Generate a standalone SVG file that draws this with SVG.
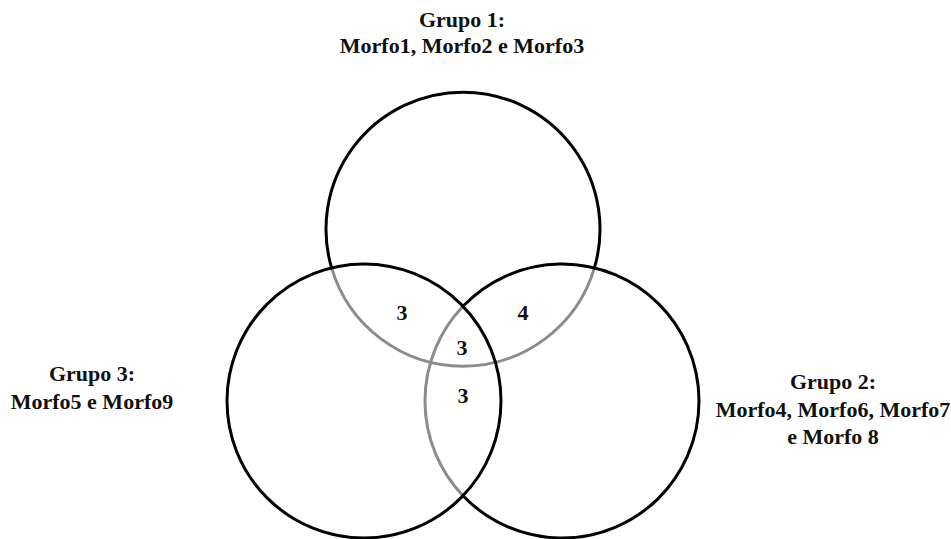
<svg xmlns="http://www.w3.org/2000/svg" width="951" height="539" viewBox="0 0 951 539">
<style>
.blk{fill:none;stroke:#000;stroke-width:3}
.gry{fill:none;stroke:#8c8c8c;stroke-width:3}
text{font-family:"Liberation Serif","Times New Roman",serif;font-weight:bold;font-size:22px;fill:#111;text-anchor:middle}
</style>
<rect width="951" height="539" fill="#fff"/>
<g id="grupo1">
<path class="gry" d="M331.6 267.9 A137 137 0 0 0 594.4 267.9"/>
<path class="blk" d="M331.6 267.9 A137 137 0 1 1 594.4 267.9"/>
<text x="462" y="27">Grupo 1:</text>
<text x="462" y="53">Morfo1, Morfo2 e Morfo3</text>
</g>
<g id="grupo2">
<path class="gry" d="M463 306.3 A137 137 0 0 0 463 495.7"/>
<path class="blk" d="M463 306.3 A137 137 0 1 1 463 495.7"/>
<text x="833" y="389">Grupo 2:</text>
<text x="833" y="417">Morfo4, Morfo6, Morfo7</text>
<text x="833" y="444">e Morfo 8</text>
</g>
<g id="grupo3">
<circle class="blk" cx="364" cy="401" r="137"/>
<text x="92" y="381">Grupo 3:</text>
<text x="92" y="409">Morfo5 e Morfo9</text>
</g>
<g id="regions">
<text x="402" y="320">3</text>
<text x="523" y="320">4</text>
<text x="462" y="355">3</text>
<text x="463" y="403">3</text>
</g>
<g id="connectors"></g>
</svg>
